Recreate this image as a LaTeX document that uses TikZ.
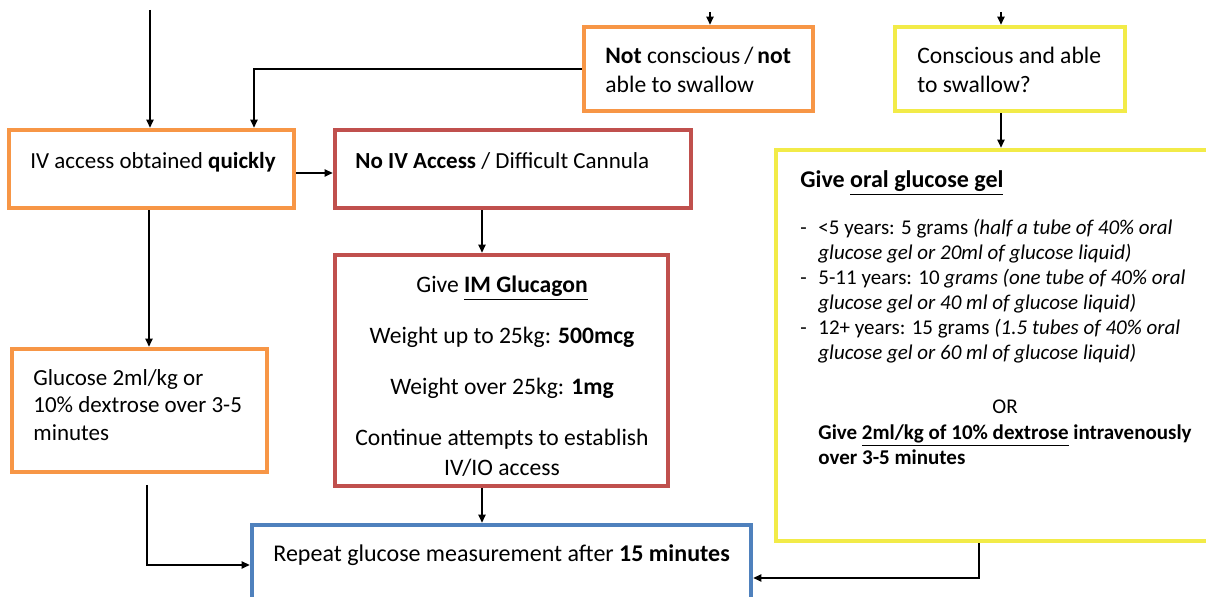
\documentclass[tikz,border=0pt]{standalone}
\usepackage{fontspec}
\setmainfont{Carlito}
\usetikzlibrary{arrows.meta,calc}

\definecolor{orangeC}{RGB}{247,150,70}
\definecolor{redC}{RGB}{192,80,77}
\definecolor{yellowC}{RGB}{242,235,72}
\definecolor{blueC}{RGB}{79,129,189}

\tikzset{
  box/.style={draw, line width=2.3pt, inner sep=0pt, fill=white},
  boxsize/.style 2 args={minimum width=#1*0.5pt, minimum height=#2*0.5pt},
  txt/.style={inner sep=0pt, align=left, anchor=north west, font=\fontsize{11.5}{14}\selectfont},
  small/.style={inner sep=0pt, align=left, anchor=north west, font=\fontsize{10.5}{12.5}\selectfont},
  arr/.style={line width=0.8pt, -{Triangle[length=4pt,width=3.6pt]}},
}

\begin{document}
\begin{tikzpicture}[x=0.5pt, y=-0.5pt]
	\useasboundingbox (0,0) rectangle (1206,597);
	\clip (0,0) rectangle (1206,597);

	% boxes
	\node[box, draw=orangeC, boxsize={229}{84}] (notbox) at (698.5,69) {};
	\node[box, draw=yellowC, boxsize={230}{84}] (confbox) at (1010,69) {};
	\node[box, draw=orangeC, boxsize={285}{78}] (ivbox) at (151.5,169) {};
	\node[box, draw=redC, boxsize={356}{78}] (nobox) at (513,169) {};
	\node[box, draw=redC, boxsize={333}{231}] (imbox) at (501.5,370.5) {};
	\node[box, draw=orangeC, boxsize={255}{123}] (glubox) at (139.5,410.5) {};
	\node[box, draw=blueC, boxsize={499}{106}] (repbox) at (501.5,578) {};
	\node[box, draw=yellowC, boxsize={480}{391}] (oralbox) at (1016,345.5) {};

	% texts
	\node[txt, font=\fontsize{11.8}{14.5}\selectfont] (nottext) at (605,47) {\textbf{Not} conscious\,/\,\textbf{not}\\able to swallow};
	\node[txt, font=\fontsize{11.8}{14.5}\selectfont] (conftext) at (917,47) {Conscious and able\\to swallow?};
	\node[txt] (ivtext) at (30,152) {IV access obtained \textbf{quickly}};
	\node[txt] (notext) at (355,152) {\textbf{No IV Access} / Difficult Cannula};
	\node[txt, anchor=north, align=center, font=\fontsize{11.8}{15}\selectfont] (imtext) at (502,276)
		{Give \textbf{\underline{IM Glucagon}}\\[10.5pt]
		 Weight up to 25kg: \textbf{500mcg}\\[10.5pt]
		 Weight over 25kg: \textbf{1mg}\\[10.5pt]
		 Continue attempts to establish\\IV/IO access};
	\node[txt, font=\fontsize{11.5}{13.8}\selectfont] (glutext) at (33,369) {Glucose 2ml/kg or\\10\% dextrose over 3-5\\minutes};
	\node[txt, font=\fontsize{12}{14}\selectfont] (reptext) at (273,544) {Repeat glucose measurement after \textbf{15 minutes}};

	\node[txt, font=\fontsize{12}{14}\selectfont\bfseries] (oralhead) at (800,170) {Give \underline{oral glucose gel}};
	\node[small] (orallist) at (800,217) {%
		\begin{tabular}{@{}p{9pt}@{}l@{}}
		- & <5 years: 5 grams \textit{(half a tube of 40\% oral}\\
		  & \textit{glucose gel or 20ml of glucose liquid)}\\
		- & 5-11 years: 10 \textit{grams (one tube of 40\% oral}\\
		  & \textit{glucose gel or 40 ml of glucose liquid)}\\
		- & 12+ years: 15 grams \textit{(1.5 tubes of 40\% oral}\\
		  & \textit{glucose gel or 60 ml of glucose liquid)}
		\end{tabular}};
	\node[small, anchor=north] (ortext) at (1005,399) {OR};
	\node[small, font=\fontsize{10.5}{12.5}\selectfont\bfseries] (dextext) at (818,424)
		{Give \underline{2ml/kg of 10\% dextrose} intravenously\\over 3-5 minutes};

	% connectors
	\coordinate (topL) at (150,10);
	\coordinate (topN) at (710,12);
	\coordinate (topC) at (1001,12);
	\coordinate (colM) at (254,0);
	\coordinate (colA) at (482,0);
	\coordinate (colL) at (149,0);
	\coordinate (colR) at (1001,0);
	\coordinate (colO) at (979,0);
	\coordinate (gluend) at (147,485);

	\draw[arr] (topL) -- (topL |- ivbox.north);
	\draw[arr] (topN) -- (topN |- notbox.north);
	\draw[arr] (topC) -- (topC |- confbox.north);
	\draw[arr] (notbox.west) -| (colM |- ivbox.north);
	\draw[arr] ($(ivbox.east)+(0,4)$) -- ($(nobox.west)+(0,4)$);
	\draw[arr] (colA |- nobox.south) -- (colA |- imbox.north);
	\draw[arr] (colL |- ivbox.south) -- (colL |- glubox.north);
	\draw[arr] (colA |- imbox.south) -- (colA |- repbox.north);
	\draw[arr] (colR |- confbox.south) -- (colR |- oralbox.north);
	\draw[arr] (gluend) |- ($(repbox.west)+(0,-13)$);
	\draw[arr] (colO |- oralbox.south) |- (repbox.east);
\end{tikzpicture}
\end{document}
